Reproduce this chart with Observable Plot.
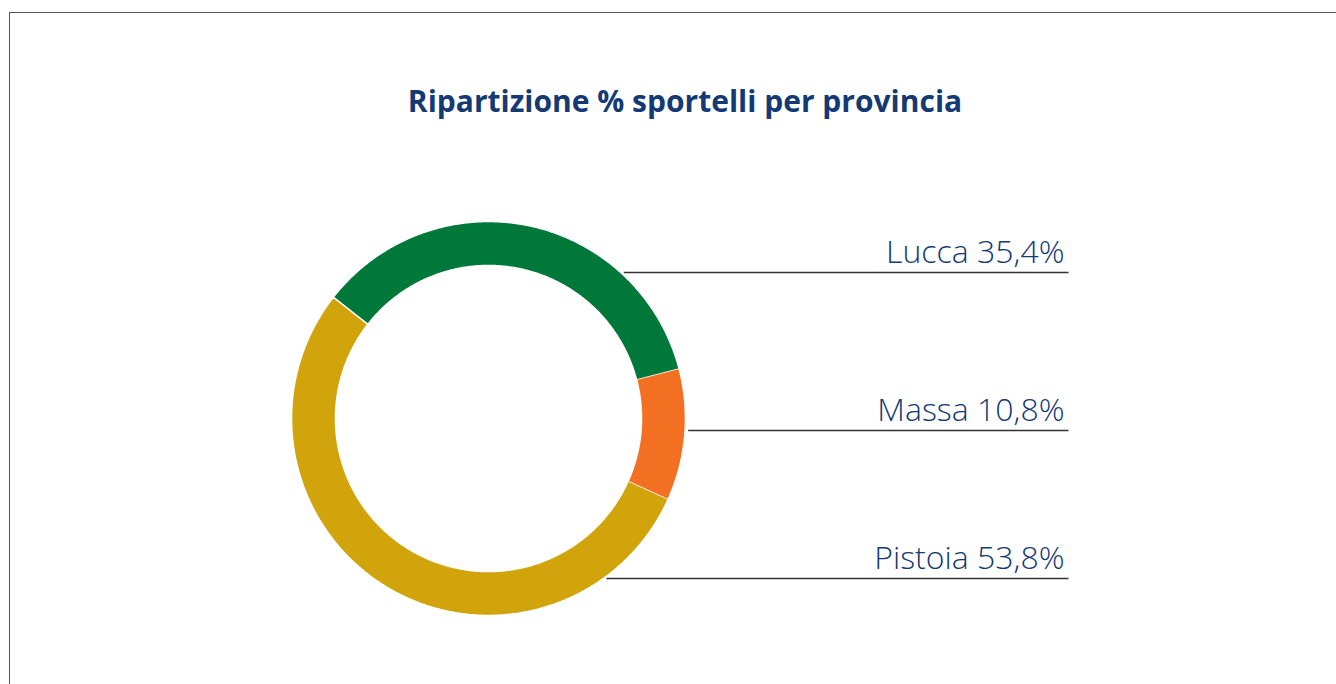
<!DOCTYPE html>
<html><head><meta charset="utf-8">
<script src="https://cdn.jsdelivr.net/npm/d3@7"></script>
<script src="https://cdn.jsdelivr.net/npm/@observablehq/plot@0.6"></script>
<style>
body{margin:0;background:#fff;width:1336px;height:684px;overflow:hidden;position:relative;font-family:"Open Sans",sans-serif}
#frame{position:absolute;left:9px;top:12px;width:1340px;height:700px;border-top:1.5px solid #555;border-left:1.5px solid #555}
#title{position:absolute;left:0;width:1370px;top:83px;text-align:center;font-weight:700;font-size:30px;color:#143a75;line-height:36px}
#chart{position:absolute;left:0;top:140px}
</style></head><body>
<div id="frame"></div>
<div id="title">Ripartizione % sportelli per provincia</div>
<div id="chart"></div>
<script>
// ---- data ----
const provinces = ["Lucca", "Massa", "Pistoia"];
const shares = [35.4, 10.8, 53.8];
const shareLabels = ["35,4%", "10,8%", "53,8%"];
const colors = ["#00783a", "#f37022", "#d0a40a"];

// ---- layout ----
const W = 1336, H = 544;          // svg size
const CX = 488, CY = 278;         // ring centre (px inside svg)
const R = 197, RIN = 153;         // outer / inner radius (px)
const START = -52 * Math.PI / 180; // start angle of first slice (clockwise from top)
const labelLevels = [-146, 12, 160]; // px below centre for leader lines
const lineEnd = 1068;

const rows = provinces.map((name, i) => ({name, share: shares[i], label: `${name} ${shareLabels[i]}`}));
const arcs = d3.pie().sort(null).value(d => d.share).startAngle(START).endAngle(START + 2 * Math.PI)(rows);

const inner = RIN / R;
const ring = [];
for (const a of arcs) {
  const n = Math.max(8, Math.ceil((a.endAngle - a.startAngle) / (Math.PI / 360)));
  for (let k = 0; k <= n; k++) {
    const t = a.startAngle + (a.endAngle - a.startAngle) * k / n;
    ring.push({name: a.data.name, x: Math.sin(t), y: Math.cos(t)});
  }
  for (let k = n; k >= 0; k--) {
    const t = a.startAngle + (a.endAngle - a.startAngle) * k / n;
    ring.push({name: a.data.name, x: inner * Math.sin(t), y: inner * Math.cos(t)});
  }
}

const gap = 3 / R;
const leaders = rows.map((d, i) => {
  const y = -labelLevels[i] / R;
  return {label: d.label, y, x1: Math.sqrt(Math.max(0, 1 - y * y)) + gap, x2: (lineEnd - CX) / R};
});

const chart = Plot.plot({
  width: W, height: H,
  margin: 0,
  x: {domain: [-CX / R, (W - CX) / R], range: [0, W], axis: null},
  y: {domain: [-(H - CY) / R, CY / R], range: [H, 0], axis: null},
  color: {domain: provinces, range: colors},
  style: {background: "transparent", overflow: "visible"},
  marks: [
    Plot.line(ring, {x: "x", y: "y", z: "name", fill: "name", stroke: "white", strokeWidth: 1.6, curve: "linear"}),
    Plot.link(leaders, {x1: "x1", x2: "x2", y1: "y", y2: "y", stroke: "#333", strokeWidth: 1.3}),
    Plot.text(leaders, {x: "x2", y: "y", text: "label", textAnchor: "end", lineAnchor: "bottom", dx: -4, dy: -10,
      fontSize: 32, fontWeight: 300, fontFamily: "'Open Sans', sans-serif", fill: "#143a75"})
  ]
});
document.getElementById("chart").appendChild(chart);
</script>
</body></html>
